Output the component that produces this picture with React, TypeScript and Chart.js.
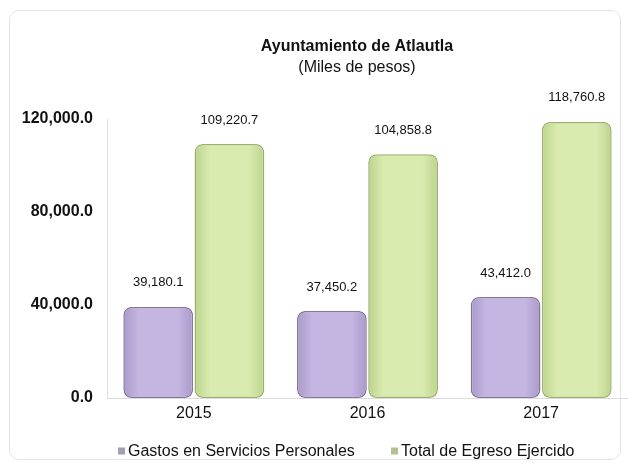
import React, { useEffect, useRef } from "react";
import { Chart, registerables } from "chart.js";

Chart.register(...registerables);

const years = ["2015", "2016", "2017"];
const gastosServicios = [39180.1, 37450.2, 43412.0];
const totalEgreso = [109220.7, 104858.8, 118760.8];
const seriesNames = ["Gastos en Servicios Personales", "Total de Egreso Ejercido"];
const yTicks = [0, 40000, 80000, 120000];
const titleText = "Ayuntamiento de Atlautla";
const subtitleText = "(Miles de pesos)";

const FONT = "'Liberation Sans', Arial, sans-serif";

const barShades = [
  { edge: "#a99ac8", mid: "#c4b5e1" },
  { edge: "#bdd38e", mid: "#d9ebaf" },
];

function fmt(v: number): string {
  const fixed = v.toFixed(1);
  const [ip, dp] = fixed.split(".");
  const withComma = ip.replace(/\B(?=(\d{3})+(?!\d))/g, ",");
  return withComma + "." + dp;
}

const gradientPlugin = {
  id: "barGradient",
  beforeDatasetsDraw(chart: any) {
    const ctx = chart.ctx;
    chart.data.datasets.forEach((_ds: any, di: number) => {
      const meta = chart.getDatasetMeta(di);
      const shade = barShades[di];
      meta.data.forEach((el: any) => {
        const w = el.width;
        const g = ctx.createLinearGradient(el.x - w / 2, 0, el.x + w / 2, 0);
        g.addColorStop(0, shade.edge);
        g.addColorStop(0.22, shade.mid);
        g.addColorStop(0.78, shade.mid);
        g.addColorStop(1, shade.edge);
        const base = el.options;
        el.options = {
          backgroundColor: g,
          borderColor: base.borderColor,
          borderWidth: base.borderWidth,
          borderRadius: base.borderRadius,
          borderSkipped: base.borderSkipped,
          inflateAmount: base.inflateAmount,
          base: base.base,
        };
      });
    });
  },
};

const overlayPlugin = {
  id: "overlay",
  afterDatasetsDraw(chart: any) {
    const ctx = chart.ctx;
    ctx.save();
    // data labels
    ctx.font = `13px ${FONT}`;
    ctx.fillStyle = "#111";
    ctx.textAlign = "center";
    ctx.textBaseline = "middle";
    chart.data.datasets.forEach((ds: any, di: number) => {
      const meta = chart.getDatasetMeta(di);
      meta.data.forEach((el: any, i: number) => {
        ctx.fillText(fmt(ds.data[i]), el.x, el.y - 24);
      });
    });
    // title
    ctx.font = `bold 16px ${FONT}`;
    ctx.fillStyle = "#111";
    ctx.fillText(titleText, 357, 47);
    ctx.font = `16px ${FONT}`;
    ctx.fillText(subtitleText, 357, 68);
    // legend
    const legendY = 451;
    const items = [
      { x: 118, color: "#a59db4", label: seriesNames[0] },
      { x: 391, color: "#b3c08f", label: seriesNames[1] },
    ];
    ctx.textAlign = "left";
    ctx.font = `16px ${FONT}`;
    items.forEach((it) => {
      ctx.fillStyle = it.color;
      ctx.fillRect(it.x, legendY - 3.5, 7, 7);
      ctx.fillStyle = "#111";
      ctx.fillText(it.label, it.x + 10, legendY + 1);
    });
    ctx.restore();
  },
};

export default function App() {
  const canvasRef = useRef<HTMLCanvasElement | null>(null);

  useEffect(() => {
    document.body.style.margin = "0";
    document.body.style.background = "#ffffff";
    const canvas = canvasRef.current;
    if (!canvas) return;
    const chart = new Chart(canvas, {
      type: "bar",
      data: {
        labels: years,
        datasets: [
          {
            label: seriesNames[0],
            data: gastosServicios,
            backgroundColor: "#bcaadb",
            borderColor: "#85759f",
            borderWidth: 1.5,
            borderRadius: 8,
            borderSkipped: false,
            categoryPercentage: 0.82,
            barPercentage: 0.98,
          },
          {
            label: seriesNames[1],
            data: totalEgreso,
            backgroundColor: "#d4e6a6",
            borderColor: "#9cb26c",
            borderWidth: 1.5,
            borderRadius: 8,
            borderSkipped: false,
            categoryPercentage: 0.82,
            barPercentage: 0.98,
          },
        ],
      },
      options: {
        animation: false,
        responsive: false,
        maintainAspectRatio: false,
        layout: { padding: { top: 119, left: 0, right: 0, bottom: 0 } },
        plugins: {
          legend: { display: false },
          title: { display: false },
          tooltip: { enabled: false },
        },
        scales: {
          x: {
            grid: { display: false, drawTicks: false },
            border: { display: true, color: "#dcdcdc", width: 1 },
            ticks: {
              padding: 6,
              color: "#111",
              font: { family: FONT, size: 16 },
            },
            afterFit(scale: any) {
              scale.height = 70;
            },
          },
          y: {
            min: 0,
            max: 120000,
            afterBuildTicks(scale: any) {
              scale.ticks = yTicks.map((v) => ({ value: v }));
            },
            grid: { display: false, drawTicks: false },
            border: { display: true, color: "#e0e0e0", width: 1 },
            ticks: {
              padding: 14,
              color: "#111",
              font: { family: FONT, size: 16, weight: "bold" },
              callback: (v: any) => fmt(Number(v)),
            },
            afterFit(scale: any) {
              scale.width = 107;
            },
          },
        },
      },
      plugins: [gradientPlugin, overlayPlugin],
    } as any);
    return () => chart.destroy();
  }, []);

  return (
    <div style={{ position: "relative", width: 628, height: 468, background: "#fff" }}>
      <div
        style={{
          position: "absolute",
          left: 9,
          top: 10,
          width: 612,
          height: 450,
          border: "1px solid #e4e4e4",
          borderRadius: 10,
          boxSizing: "border-box",
        }}
      />
      <canvas
        ref={canvasRef}
        width={628}
        height={468}
        style={{ position: "absolute", left: 0, top: 0, width: 628, height: 468 }}
      />
    </div>
  );
}
